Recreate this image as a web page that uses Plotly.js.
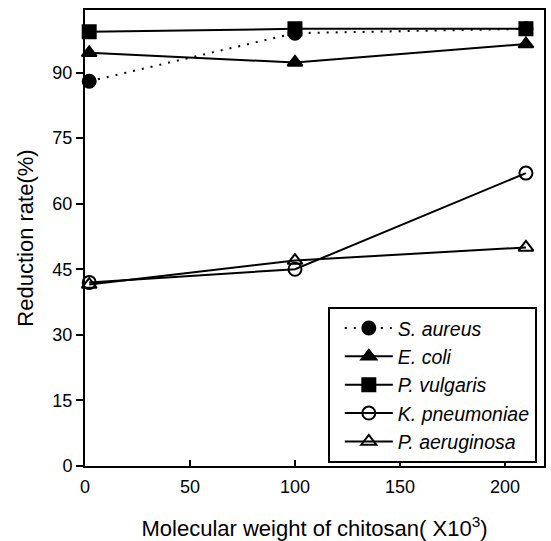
<!DOCTYPE html>
<html>
<head>
<meta charset="utf-8">
<script src="https://cdn.plot.ly/plotly-3.0.1.min.js"></script>
<style>html,body{margin:0;padding:0;background:#fff;}#chart{width:551px;height:541px;}</style>
</head>
<body>
<div id="chart"></div>
<script>
const molWeight = [2, 100, 210];
const sAureus = [88, 99, 100];
const eColi = [94.5, 92.3, 96.5];
const pVulgaris = [99.3, 100, 100];
const kPneumoniae = [42, 45, 67];
const pAeruginosa = [41.5, 47, 50];
const seriesNames = ['S. aureus', 'E. coli', 'P. vulgaris', 'K. pneumoniae', 'P. aeruginosa'];
const xTicks = [0, 50, 100, 150, 200];
const yTicks = [0, 15, 30, 45, 60, 75, 90];

const FONT = 'Liberation Sans, Arial, sans-serif';
function tr(y, name, symbol, dash, fill) {
  return {
    x: molWeight, y: y, name: name, type: 'scatter', mode: 'lines+markers',
    line: {color: '#000', width: 2, dash: dash},
    marker: {symbol: symbol, size: 13, color: fill, line: {color: '#000', width: 2}},
    cliponaxis: false
  };
}
const data = [
  tr(sAureus, seriesNames[0], 'circle', '2px,7px', '#000'),
  tr(eColi, seriesNames[1], 'triangle-up', 'solid', '#000'),
  tr(pVulgaris, seriesNames[2], 'square', 'solid', '#000'),
  tr(kPneumoniae, seriesNames[3], 'circle-open', 'solid', '#000'),
  tr(pAeruginosa, seriesNames[4], 'triangle-up-open', 'solid', '#000')
];

const layout = {
  width: 551, height: 541,
  margin: {l: 85, r: 7, t: 10, b: 75},
  paper_bgcolor: '#fff', plot_bgcolor: '#fff',
  font: {family: FONT, size: 18, color: '#000'},
  showlegend: true,
  legend: {
    x: 0.529, y: 0.007, xanchor: 'left', yanchor: 'bottom',
    bgcolor: '#fff', bordercolor: '#000', borderwidth: 2,
    font: {family: FONT, size: 19.5, style: 'italic', color: '#000'},
    tracegroupgap: 0, itemwidth: 48, indentation: 10
  },
  xaxis: {
    range: [0, 218.6], tickmode: 'array', tickvals: xTicks, showgrid: false, zeroline: false,
    showline: true, linecolor: '#000', linewidth: 2, mirror: true,
    ticks: 'inside', ticklen: 6, tickwidth: 2, tickcolor: '#000',
    tickfont: {family: FONT, size: 18}, ticklabelstandoff: 3,
    title: {text: 'Molecular weight of chitosan( X10<sup>3</sup>)', font: {family: FONT, size: 22}, standoff: 30}
  },
  yaxis: {
    range: [0, 104.3], tickmode: 'array', tickvals: yTicks, showgrid: false, zeroline: false,
    showline: true, linecolor: '#000', linewidth: 2, mirror: true,
    ticks: 'outside', ticklen: 7, tickwidth: 2, tickcolor: '#000',
    tickfont: {family: FONT, size: 18},
    title: {text: 'Reduction rate(%)', font: {family: FONT, size: 22}, standoff: 13}
  }
};
Plotly.newPlot('chart', data, layout, {displayModeBar: false, staticPlot: true});
</script>
</body>
</html>
